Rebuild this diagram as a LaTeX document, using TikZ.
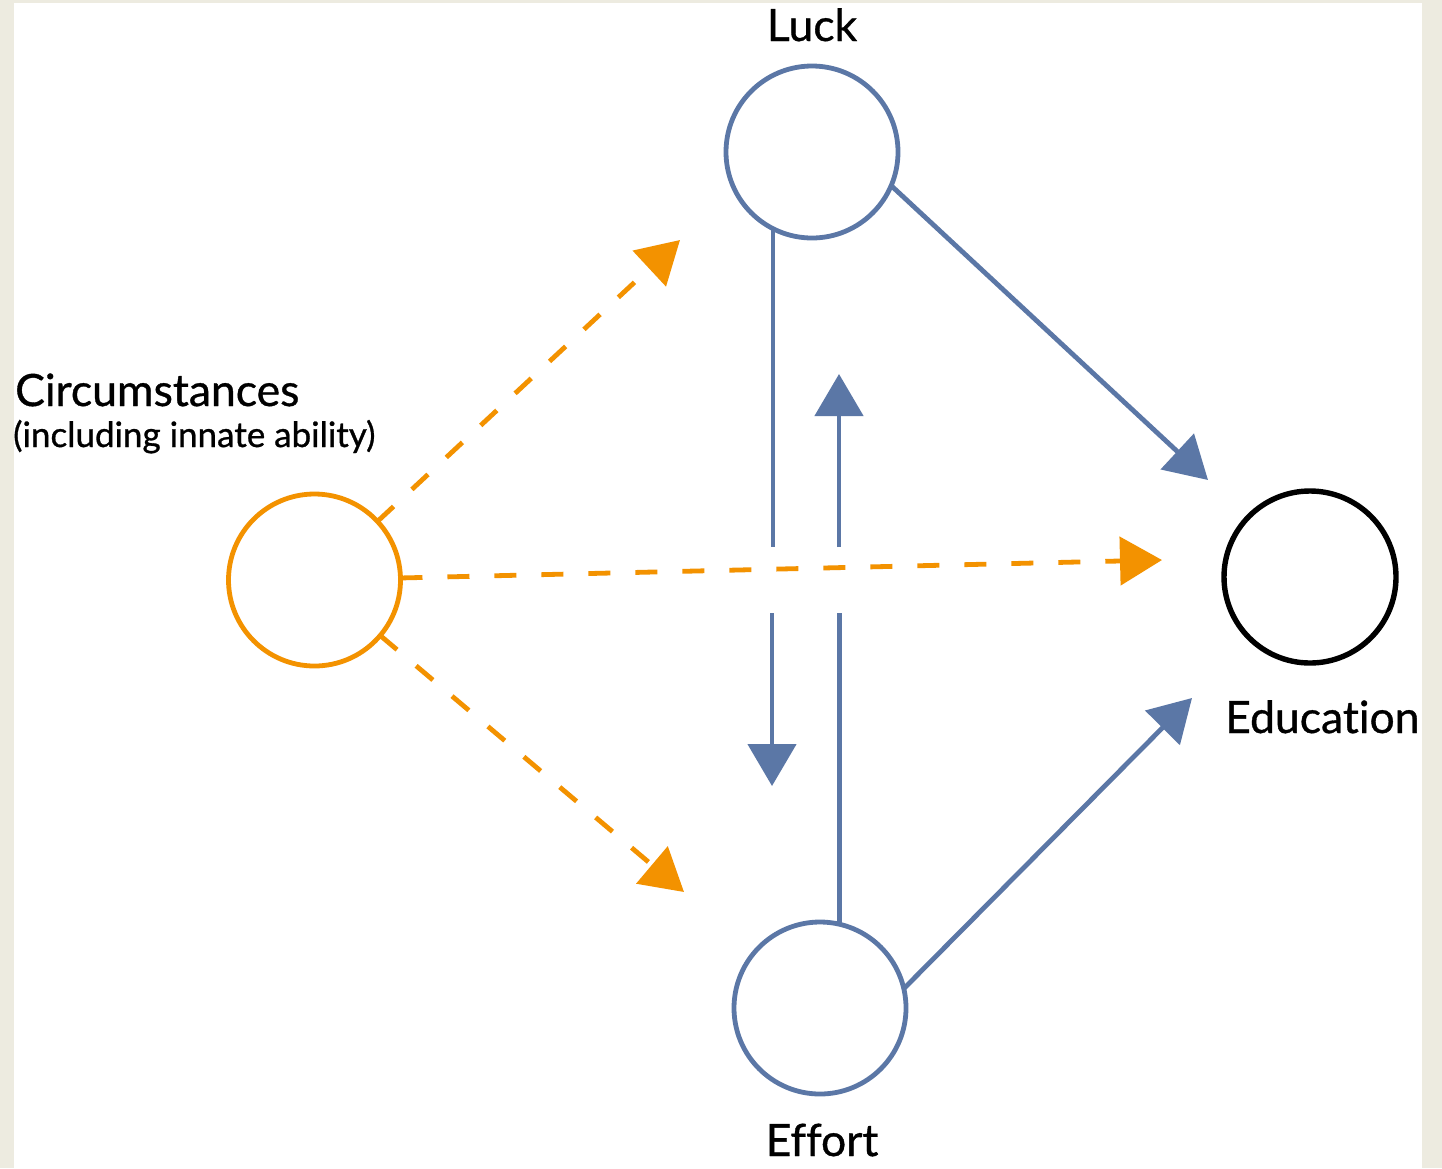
\documentclass[tikz,border=0pt]{standalone}
\usepackage{fontspec}
\setmainfont{Lato}[Ligatures={NoCommon}, FakeBold=0.8]
\usetikzlibrary{arrows.meta}
\definecolor{bluec}{HTML}{5B77A6}
\definecolor{orangec}{HTML}{F39200}
\definecolor{beige}{HTML}{EDEBE0}
\begin{document}
\begin{tikzpicture}[x=1pt,y=-1pt,
  circ/.style={circle, minimum size=172pt, inner sep=0pt, outer sep=0pt, line width=4.8pt},
  bline/.style={draw=bluec, line width=4.8pt},
  barrow/.style={bline, -{Triangle[length=42pt,width=48pt]}},
  oarrow/.style={draw=orangec, line width=4.8pt, dash pattern=on 22pt off 25pt, -{Triangle[length=42pt,width=48pt]}},
  lbl/.style={font=\fontsize{44.5}{52}\selectfont, inner sep=0pt},
  sublbl/.style={font=\fontsize{35}{42}\selectfont, inner sep=0pt}]
\fill[beige] (0,0) rectangle (1442,1168);
\fill[white] (14,3) rectangle (1422,1168);
\useasboundingbox (0,0) rectangle (1442,1168);

\node[circ, draw=bluec] (luck) at (812,152) {};
\node[circ, draw=bluec] (effort) at (820,1008) {};
\node[circ, draw=orangec] (circs) at (314.5,580) {};
\node[circ, draw=black, line width=5.4pt] (edu) at (1310,577) {};

\node[lbl, anchor=base] (luckl) at (812,41) {Luck};
\node[lbl, anchor=base] (effortl) at (822,1156) {Effort};
\node[lbl, anchor=base west] (edul) at (1225,733) {Education};
\node[lbl, anchor=base west] (circl) at (15,406) {Circumstances};
\node[sublbl, anchor=base west] (circsub) at (13,447) {(including innate ability)};

\coordinate (tLE) at (1208,480);
\coordinate (tEE) at (1192,698);
\coordinate (ld1) at (772,547);
\coordinate (ld2) at (772,613);
\coordinate (ldtip) at (772,786);
\coordinate (eu1) at (839,613);
\coordinate (eu2) at (839,547);
\coordinate (eutip) at (839,374);
\coordinate (o1) at (680,240);
\coordinate (o2) at (1162,560);
\coordinate (o3) at (684,892);

\draw[barrow] (luck.-23) -- (tLE);
\draw[barrow] (effort.13) -- (tEE);
\draw[bline] (luck.-117) -- (luck.-117 |- ld1);
\draw[barrow] (ld2) -- (ldtip);
\draw[bline] (effort.77.5) -- (effort.77.5 |- eu1);
\draw[barrow] (eu2) -- (eutip);

\draw[oarrow] (circs) -- (o1);
\draw[oarrow] (circs) -- (o2);
\draw[oarrow] (circs) -- (o3);
\end{tikzpicture}
\end{document}
